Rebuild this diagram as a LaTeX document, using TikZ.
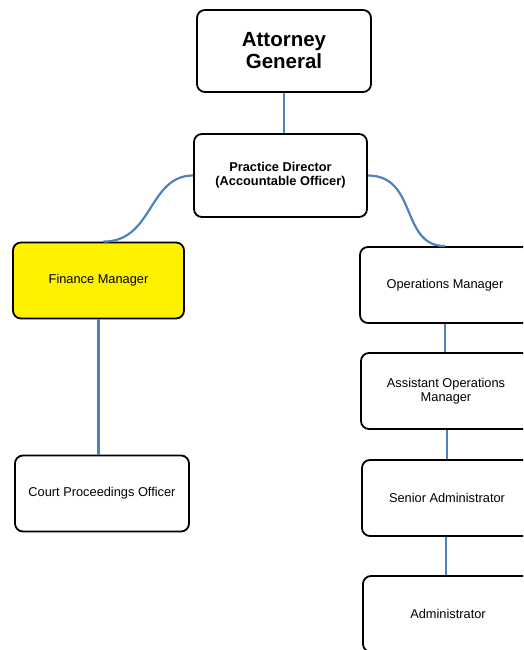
\documentclass[tikz,border=0pt]{standalone}
\usepackage{fontspec}
\setmainfont{Liberation Sans}
\usetikzlibrary{shapes}
\usetikzlibrary{arrows}

\begin{document}
\begin{tikzpicture}[x=1pt,y=-1pt]

      \tikzset{box/.style = {shape=rectangle,rounded corners=8pt,draw,line width=1.8pt,
          minimum width=171pt,minimum height=76pt,align=center,font=\fontsize{12.8}{14}\selectfont}}
      \tikzset{edge/.style = {-,draw={rgb,255:red,79;green,129;blue,189},line width=2.2pt}}
      \clip (0,0) rectangle (523,650);
      % boxes
      \node[box,minimum width=174pt,minimum height=82pt,font=\fontsize{20.5}{22}\selectfont\bfseries] (ag) at (284,51) {Attorney\\General};
      \node[box,minimum width=173pt,minimum height=83pt,font=\fontsize{12.8}{14}\selectfont\bfseries] (pd) at (280.5,175.5) {Practice Director\\(Accountable Officer)};
      \node[box,fill=yellow] (fm) at (98.5,280.5) {Finance Manager};
      \node[box,minimum width=174pt] (cpo) at (102,493.5) {Court Proceedings Officer};
      \node[box,minimum width=170pt] (om) at (445,285) {Operations Manager};
      \node[box,minimum width=170pt] (aom) at (446,391) {Assistant Operations\\Manager};
      \node[box,minimum width=170pt] (sa) at (447,498) {Senior Administrator};
      \node[box,minimum width=170pt] (adm) at (448,614) {Administrator};
      % edges
      \draw[edge] (ag.south) -- (ag.south |- pd.north);
      \draw[edge] (pd.west) .. controls +(-45,0) and +(50,0) .. ([xshift=5pt]fm.north);
      \draw[edge] (pd.east) .. controls +(50,0) and +(-45,0) .. (om.north);
      \draw[edge] (fm) -- (cpo.north -| fm);
      \draw[edge] (om) -- (aom.north -| om);
      \draw[edge] (aom.south -| sa) -- (sa);
      \draw[edge] (sa.south -| 446,0) -- (adm.north -| 446,0);
\end{tikzpicture}
\end{document}
